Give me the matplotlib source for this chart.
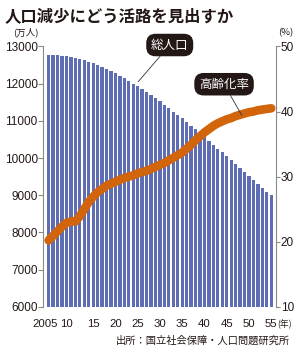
import matplotlib
matplotlib.use("Agg")
import matplotlib.pyplot as plt
from matplotlib.transforms import ScaledTranslation

plt.rcParams['font.family'] = ['Liberation Sans', 'Noto Sans CJK JP', 'DejaVu Sans']

years = list(range(2005, 2056))
population = [12777, 12774, 12763, 12750, 12735, 12718, 12690, 12660, 12625, 12586,
              12543, 12495, 12443, 12388, 12332, 12274, 12209, 12141, 12072, 12000,
              11927, 11848, 11768, 11687, 11605, 11522, 11433, 11343, 11251, 11160,
              11068, 10970, 10870, 10770, 10670, 10570, 10465, 10360, 10255, 10150,
              10044, 9939, 9833, 9727, 9621, 9515, 9410, 9306, 9201, 9097, 8993]
aging_rate = [20.2, 20.9, 21.6, 22.3, 22.9, 23.1, 23.1, 23.9, 25.0, 26.1,
              26.9, 27.6, 28.1, 28.6, 28.9, 29.2, 29.5, 29.8, 30.0, 30.2,
              30.5, 30.7, 30.9, 31.2, 31.5, 31.8, 32.1, 32.5, 32.9, 33.3,
              33.7, 34.3, 34.9, 35.6, 36.2, 36.8, 37.3, 37.8, 38.2, 38.5,
              38.8, 39.0, 39.3, 39.5, 39.7, 39.9, 40.0, 40.2, 40.3, 40.4, 40.5]
xtick_years = [2005, 2010, 2015, 2020, 2025, 2030, 2035, 2040, 2045, 2050, 2055]
xtick_labels = ['2005', '10', '15', '20', '25', '30', '35', '40', '45', '50', '55']
left_ticks = [6000, 7000, 8000, 9000, 10000, 11000, 12000, 13000]
right_ticks = [10, 20, 30, 40, 50]

TXT = '#231815'
GRAY = '#8a8a8a'
BAR = '#5f6db4'
LINE = '#d2640c'

fig = plt.figure(figsize=(3.0, 3.52), dpi=100)
ax = fig.add_axes([0.1443, 0.1287, 0.7747, 0.7392])
ax.bar(years, population, width=0.74, color=BAR, linewidth=0)
ax.set_xlim(2003.8, 2056.0)
ax.set_ylim(6000, 13000)
ax.set_yticks(left_ticks)
ax.set_yticklabels([str(v) for v in left_ticks])
ax.set_xticks(xtick_years)
ax.set_xticklabels(xtick_labels)
ax.tick_params(axis='y', direction='out', length=3.5, width=0.8, color=GRAY,
               labelsize=8.5, labelcolor=TXT, pad=0.5)
ax.tick_params(axis='x', length=0, labelsize=8.2, labelcolor=TXT, pad=9)
for s in ['top', 'bottom', 'right']:
    ax.spines[s].set_visible(False)
ax.spines['left'].set_color(GRAY)
ax.spines['left'].set_linewidth(0.8)

# shift first two x labels left, as in reference
lbls = ax.get_xticklabels()
lbls[0].set_transform(lbls[0].get_transform() + ScaledTranslation(-4/100, 0, fig.dpi_scale_trans))
lbls[1].set_transform(lbls[1].get_transform() + ScaledTranslation(-4/100, 0, fig.dpi_scale_trans))

ax2 = ax.twinx()
ax2.plot(years, aging_rate, color=LINE, linewidth=6.2, solid_capstyle='round',
         solid_joinstyle='round')
ax2.set_ylim(10, 50)
ax2.set_yticks(right_ticks)
ax2.set_yticklabels([str(v) for v in right_ticks])
ax2.tick_params(axis='y', direction='out', length=3, width=0.8, color=GRAY,
                labelsize=8.5, labelcolor=TXT, pad=0.5)
for s in ['top', 'bottom', 'left']:
    ax2.spines[s].set_visible(False)
ax2.spines['right'].set_color(GRAY)
ax2.spines['right'].set_linewidth(0.8)
ax2.set_xlim(2003.8, 2056.0)

box = dict(boxstyle='round,pad=0.38,rounding_size=0.75', fc='#231815', ec='none')
ax.annotate('総人口', xy=(2025.1, 12050), xytext=(2032.2, 13040),
            ha='center', va='center', color='white', fontsize=9,
            family=['Noto Sans CJK JP'], bbox=box, annotation_clip=False,
            arrowprops=dict(arrowstyle='-', color='#333333', lw=0.6, shrinkA=0, shrinkB=0))
ax2.annotate('高齢化率', xy=(2048.4, 39.4), xytext=(2044.4, 44.2),
             ha='center', va='center', color='white', fontsize=9,
             family=['Noto Sans CJK JP'], bbox=box, annotation_clip=False,
             arrowprops=dict(arrowstyle='-', color='#333333', lw=0.6, shrinkA=0, shrinkB=0))

fig.text(5/300, 1 - 17.5/352, '人口減少にどう活路を見出すか', ha='left', va='center',
         fontsize=11.8, fontweight='bold', color=TXT, family=['Noto Sans CJK JP'])
fig.text(25.5/300, 1 - 32.5/352, '(万人)', ha='center', va='center', fontsize=6.8,
         color=TXT, family=['Noto Sans CJK JP'])
fig.text(285.5/300, 1 - 32.5/352, '(%)', ha='center', va='center', fontsize=6.8,
         color=TXT, family=['Noto Sans CJK JP'])
fig.text(284/300, 1 - 324/352, '(年)', ha='center', va='center', fontsize=6.3,
         color=TXT, family=['Noto Sans CJK JP'])
fig.text(290/300, 1 - 341/352, '出所：国立社会保障・人口問題研究所', ha='right', va='center',
         fontsize=7.4, color=TXT, family=['Noto Sans CJK JP'])

fig.savefig('out.png', dpi=100)
